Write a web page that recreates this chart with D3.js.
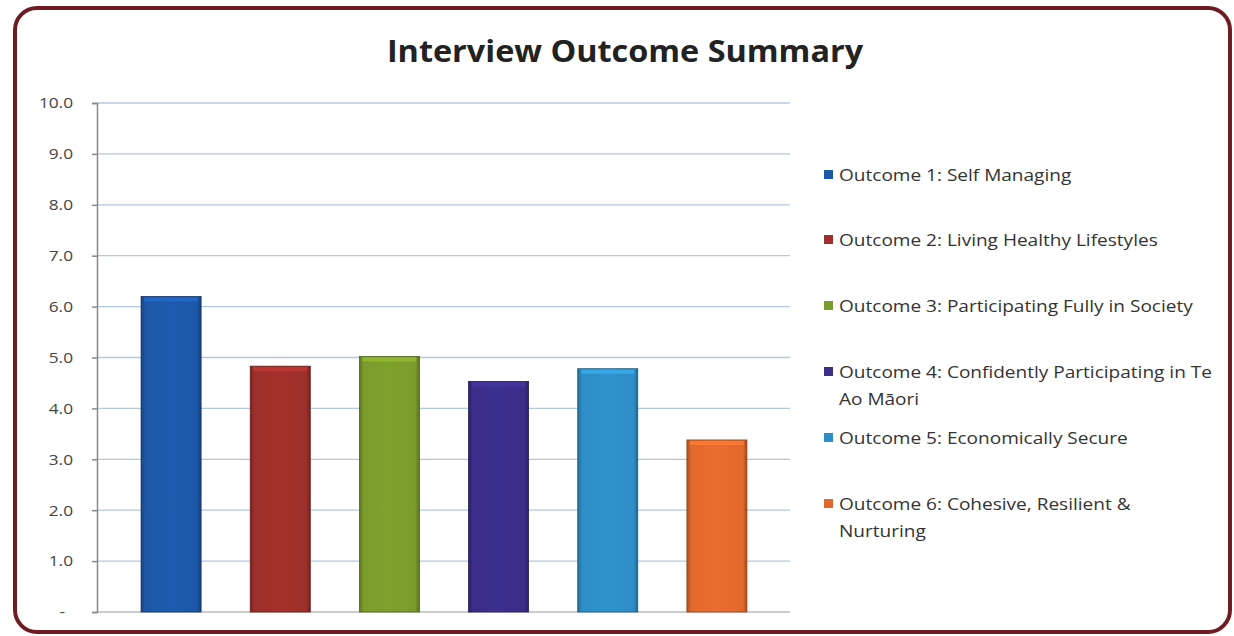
<!DOCTYPE html>
<html><head><meta charset="utf-8">
<script src="https://cdn.jsdelivr.net/npm/d3@7"></script>
<style>html,body{margin:0;padding:0;background:#fff;}svg{display:block;}</style>
</head><body>
<svg id="c" width="1234" height="636"></svg>
<script>
const categories = ["Outcome 1:  Self Managing","Outcome 2: Living Healthy Lifestyles","Outcome 3: Participating Fully in Society","Outcome 4: Confidently Participating in Te Ao Māori","Outcome 5: Economically Secure","Outcome 6: Cohesive, Resilient & Nurturing"];
const legendLines = [["Outcome 1:  Self Managing"],["Outcome 2: Living Healthy Lifestyles"],["Outcome 3: Participating Fully in Society"],["Outcome 4: Confidently Participating in Te","Ao Māori"],["Outcome 5: Economically Secure"],["Outcome 6: Cohesive, Resilient &","Nurturing"]];
const values = [6.2, 4.83, 5.02, 4.53, 4.78, 3.38];
const colors = ["#1d58a8","#9e2f2a","#7b9b2b","#3b2d88","#2e8ec6","#e2692c"];
const yTicks = [0,1,2,3,4,5,6,7,8,9,10];
const title = "Interview Outcome Summary";

const svg = d3.select("#c");
const defs = svg.append("defs");

// frame
svg.append("rect").attr("x",15).attr("y",8).attr("width",1215).attr("height",624)
  .attr("rx",22).attr("fill","#fff").attr("stroke","#6e1c22").attr("stroke-width",4);

svg.append("text").attr("transform","translate(625,62) scale(1.08,1)").attr("text-anchor","middle")
  .attr("font-family","Open Sans, Lato, sans-serif").attr("font-weight","bold")
  .attr("font-size",30).attr("fill","#222").text(title);

const y = d3.scaleLinear().domain([0,10]).range([612,103]);
const x = d3.scaleBand().domain(categories).range([116.5,771.5]).paddingInner(0.45).paddingOuter(0.225);
const plotL = 97, plotR = 790;

// gridlines
svg.append("g").selectAll("line").data(yTicks.filter(d=>d>0)).join("line")
  .attr("x1",plotL).attr("x2",plotR).attr("y1",d=>y(d)).attr("y2",d=>y(d))
  .attr("stroke","#b4c8e0").attr("stroke-width",1.3);

// y axis
const ax = svg.append("g").attr("transform",`translate(${plotL},0)`)
  .call(d3.axisLeft(y).tickValues(yTicks).tickSize(5).tickPadding(0)
    .tickFormat(d=>d===0?"-":d.toFixed(1)));
ax.select(".domain").attr("stroke","#888").attr("stroke-width",1.5);
ax.selectAll(".tick line").attr("stroke","#888").attr("stroke-width",1.5);
ax.selectAll(".tick text").attr("font-family","Open Sans, Lato, sans-serif").attr("font-size",15).attr("fill","#444")
  .attr("x",null).attr("transform","translate(-24,0) scale(1.15,1)");
ax.selectAll(".tick").filter(d=>d===0).select("text").attr("transform","translate(-32,0) scale(1.15,1)");

// bottom axis line
svg.append("line").attr("x1",plotL).attr("x2",plotR).attr("y1",y(0)).attr("y2",y(0)).attr("stroke","#999").attr("stroke-width",1);

// gradients
colors.forEach((c,i)=>{
  const g = defs.append("linearGradient").attr("id","g"+i).attr("x1","0").attr("x2","1").attr("y1","0").attr("y2","0");
  const base = d3.color(c);
  g.append("stop").attr("offset","0%").attr("stop-color",base.darker(0.8));
  g.append("stop").attr("offset","7%").attr("stop-color",base);
  g.append("stop").attr("offset","50%").attr("stop-color",base.brighter(0.1));
  g.append("stop").attr("offset","93%").attr("stop-color",base);
  g.append("stop").attr("offset","100%").attr("stop-color",base.darker(0.9));
});

const bars = svg.append("g").selectAll("g").data(categories).join("g");
bars.append("rect")
  .attr("x",d=>x(d)).attr("width",x.bandwidth())
  .attr("y",(d,i)=>y(values[i])).attr("height",(d,i)=>y(0)-y(values[i]))
  .attr("fill",(d,i)=>`url(#g${i})`)
  .attr("stroke",(d,i)=>d3.color(colors[i]).darker(1.2)).attr("stroke-width",0.8);
bars.append("rect")
  .attr("x",d=>x(d)+3).attr("width",x.bandwidth()-6)
  .attr("y",(d,i)=>y(values[i])+1).attr("height",4)
  .attr("fill",(d,i)=>d3.color(colors[i]).brighter(0.6)).attr("opacity",0.7);

// legend
const legY = [175, 240, 306, 372, 438, 504];
const lg = svg.append("g").selectAll("g").data(legendLines).join("g")
  .attr("transform",(d,i)=>`translate(824,${legY[i]})`);
lg.append("rect").attr("x",0).attr("y",-5).attr("width",9).attr("height",9).attr("fill",(d,i)=>colors[i]);
lg.each(function(d){
  const t = d3.select(this).append("text").attr("font-family","Open Sans, Lato, sans-serif")
    .attr("font-size",16).attr("fill","#333").attr("transform","translate(15,0) scale(1.19,1)");
  d.forEach((line,j)=>{
    t.append("tspan").attr("x",0).attr("y",6 + j*27).text(line);
  });
});
</script>
</body></html>
